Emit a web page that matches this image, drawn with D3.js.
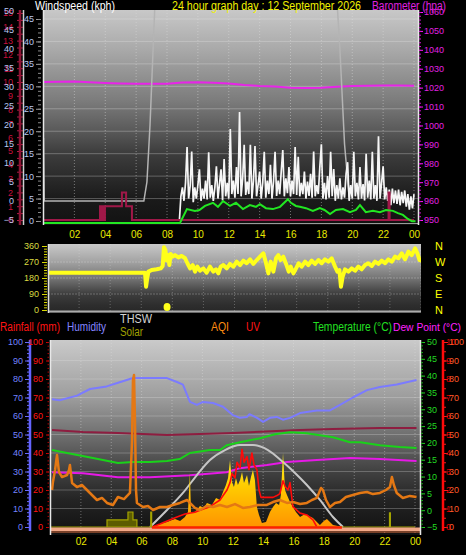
<!DOCTYPE html>
<html><head><meta charset="utf-8">
<script src="https://cdn.jsdelivr.net/npm/d3@7"></script>
<style>html,body{margin:0;padding:0;background:#000;overflow:hidden}</style>
</head><body>
<svg id="c" width="466" height="555" style="display:block;background:#000"></svg>
<script>
// ---------- DATA ----------
const hourTicks = [2,4,6,8,10,12,14,16,18,20,22,24];
const hourLabels = ["02","04","06","08","10","12","14","16","18","20","22","00"];

// Top panel: barometer (hPa)
const baroHours = [0,1,2,3,4,5,6,7,8,9,10,11,12,13,14,15,16,17,18,19,20,21,22,23,24];
const baroHpa = [1023.0,1023.1,1023.2,1022.9,1022.5,1022.2,1022.0,1022.0,1022.1,1022.7,1022.8,1022.6,1022.2,1021.4,1020.9,1020.6,1020.0,1019.8,1019.9,1020.5,1020.8,1021.0,1021.1,1021.1,1021.0];

// Top panel: average wind (kph)
const windAvgHours = [0,8.84,9.29,9.81,10.1,10.46,10.98,11.3,11.63,12.08,12.47,12.92,13.37,13.76,14.02,14.41,14.86,15.32,15.83,16.03,16.35,16.61,17.0,17.45,17.9,18.2,18.56,18.94,19.4,19.85,20.24,20.5,20.88,21.34,21.79,22.18,22.64,22.96,23.28,23.6,23.87,24.1];
const windAvgKph = [0,0,3.1,2.7,2.9,3.8,4.5,3.6,4.9,3.8,4.5,3.1,4.0,3.6,4.2,3.3,3.1,3.6,5.3,4.5,3.8,3.6,3.3,2.7,3.3,2.9,2.0,2.9,3.1,2.4,2.9,4.0,2.4,2.7,2.4,2.9,2.7,2.2,1.8,0.9,0.4,0.4];

// Top panel: gust (kph), one reading every 0.1 h from 8.8 h
const gustStartHour = 8.8, gustStepHour = 0.1;
const gustKph = [0,5.5,7.5,4.5,8.5,16.5,5.0,7.8,15.5,4.2,7.5,5.0,8.0,11.5,4.5,7.2,5.0,9.0,4.8,15.3,5.2,8.0,4.5,7.5,12.2,5.0,8.2,11.5,4.6,13.8,5.5,8.5,5.0,20.5,6.0,9.0,5.2,12.0,6.0,24.3,5.5,9.5,17.0,5.8,8.8,6.0,17.0,5.0,9.0,16.7,5.5,8.0,11.0,5.0,8.5,15.4,5.2,9.0,6.0,12.5,5.0,8.8,15.4,5.6,9.0,6.0,11.0,15.8,5.5,9.5,6.2,12.0,5.5,9.0,6.0,16.5,5.8,14.3,5.5,8.5,6.0,11.0,5.0,8.8,5.6,10.5,5.2,15.5,5.5,8.0,6.0,12.0,17.1,5.0,8.5,4.8,10.0,5.2,15.4,5.5,11.6,4.5,8.0,5.0,9.5,4.8,7.5,5.2,10.5,13.1,4.5,8.0,5.0,15.4,5.5,8.5,4.8,12.0,5.0,8.2,4.6,15.0,5.2,9.0,4.8,15.4,5.0,8.0,4.5,18.9,5.0,8.5,12.2,4.8,7.5,4.5,7.0,3.5,7.2,4.0,6.8,3.8,7.0,3.5,6.5,4.0,6.8,3.2,6.0,2.5,5.5,2.8,6.0];

// Top panel: grey trace (left -5..50 scale)
const greyHours = [0,0.05,6.5,6.7,6.9,7.1,7.3,18.9,19.2,19.5,19.8];
const greyVals = [16.6,0,0,5,20,40,60,60,40,15,1];

// Top panel: Beaufort steps
const bftHours = [0,3.66,3.75,3.85,3.92,3.98,5.08,5.35,5.73,22.35,22.42,24];
const bftVals = [0,1,0,1,0,1,2,1,0,2,0,0];

// Middle panel: wind direction (deg)
const dirHours = [0.02,6.24,6.31,6.37,6.46,6.67,6.99,7.25,7.38,7.46,7.55,7.64,7.74,7.81,7.89,8.02,8.17,8.39,8.6,8.82,8.97,9.14,9.31,9.46,9.61,9.78,10.0,10.21,10.42,10.64,10.81,10.96,11.11,11.28,11.5,11.71,11.93,12.14,12.36,12.57,12.78,13.0,13.21,13.43,13.64,13.86,14.03,14.18,14.33,14.5,14.67,14.82,14.97,15.14,15.32,15.49,15.62,15.79,15.96,16.13,16.32,16.54,16.75,16.97,17.18,17.4,17.61,17.82,18.04,18.25,18.47,18.62,18.75,18.85,18.96,19.11,19.33,19.54,19.76,19.97,20.18,20.4,20.61,20.83,21.04,21.26,21.47,21.69,21.9,22.12,22.33,22.54,22.76,22.97,23.19,23.4,23.62,23.77,23.9,24.05];
const dirDeg = [210,210,131,169,216,225,229,234,248,353,338,278,309,253,315,300,309,296,304,291,263,234,253,216,244,221,234,210,244,216,229,206,244,253,234,259,244,272,253,278,263,285,259,281,300,319,263,206,272,216,291,309,281,300,259,216,244,206,234,263,244,272,253,278,259,281,263,285,272,291,244,216,225,131,188,229,216,234,221,244,229,253,263,248,272,259,278,263,285,272,300,291,319,285,328,309,347,319,281,278];
const dirDotHour = 7.66, dirDotDeg = 17;

// Bottom panel: humidity (%)
const humHours = [0.1,0.6,1.75,2.6,3.7,4.45,5.43,7.67,8.33,8.72,9.18,9.64,10.04,10.7,11.36,12.0,12.48,12.94,13.1,13.6,14.0,14.45,14.9,15.3,15.77,16.43,17.54,18.4,19.06,19.91,20.84,21.69,22.8,24.1];
const humVals = [69,68.5,71,74.6,76,78,80.5,80.5,78.4,77,67.6,66,67.6,67,65,60.5,59,59.5,61,59,56.8,59,59.5,58,59,61.6,63,63,66,70,74,75.7,77,79.5];

// Bottom panel: THSW (maroon, 0-100 scale)
const thswHours = [0.1,2.14,4.44,7.67,12.02,16.43,18.6,21.69,24.1];
const thswVals = [52.4,51.4,50.8,49.7,50.8,52.4,53,53.5,53.5];

// Bottom panel: temperature (°C)
const tempHours = [0.1,1.09,2.8,4.44,5.43,6.55,7.67,8.5,9.18,10.5,11.16,11.6,12.48,13.8,14.78,15.77,16.88,18.6,19.72,20.4,21.69,23.0,24.1];
const tempVals = [17.9,17.0,15.5,14.0,14.3,14.3,14.6,15.2,17.0,17.9,17.9,19.3,20.2,21.4,22.6,23.2,22.9,21.7,20.2,20.2,19.3,18.8,18.5];

// Bottom panel: dew point (°C)
const dewHours = [0.1,2.14,4.44,6.55,9.18,11.6,12.48,14.25,15.57,17.54,19.72,21.69,24.1];
const dewVals = [11.3,11.0,9.8,9.8,10.4,11.3,12.5,13.4,14.3,14.9,15.5,15.2,14.6];

// Bottom panel: AQI (0-100)
const aqiHours = [0.1,0.16,0.3,0.43,0.56,0.76,1.09,1.22,1.28,1.42,1.74,2.07,2.4,2.73,3.06,3.39,3.72,4.11,4.44,4.84,5.23,5.37,5.43,5.5,5.56,5.63,5.69,6.09,6.42,6.75,7.21,7.67,8.06,8.52,8.99,9.18,9.51,9.84,10.3,10.7,11.16,11.62,12.15,12.67,13.13,13.66,14.25,14.65,15.1,15.57,15.96,16.43,16.88,17.21,17.54,17.81,17.94,18.14,18.4,18.73,19.06,19.45,19.91,20.38,20.84,21.23,21.69,22.09,22.35,22.48,22.61,22.8,23.2,23.66,24.1];
const aqiVals = [20,24.3,30.8,38.9,29.7,27,28.1,30.8,33.5,23.8,21.6,22.7,20,17.3,14.6,15.7,13,11.9,16.2,15.1,18.4,47,79.5,82.2,57.8,20,13,10.8,11.4,9.2,10.8,10.8,11.9,13,14.6,13,10.3,9.2,11.4,10.8,11.9,10.8,12.4,10.3,10.8,11.9,11.9,13.5,14.6,13,13.5,12.4,13,14.6,15.7,21.1,20,14.6,10.8,13,13.5,16.2,17.3,18.4,18.9,17.8,18.4,20,21.6,27,22.7,18.4,15.7,16.8,16.2];

// Bottom panel: clear-sky solar curve (0-100)
const solarMaxHours = [6.55,7.67,8.72,9.64,10.5,11.49,12.48,13.33,14.32,15.31,16.1,16.88,17.74,18.6,19.26];
const solarMaxVals = [0,9.2,18.4,28.1,36.2,41.6,44.3,44.3,41.6,35.1,29.2,22.7,14.6,5.4,0];

// Bottom panel: solar radiation (0-100)
const solarHours = [6.68,6.88,7.21,7.67,8.2,8.53,8.85,9.05,9.18,9.25,9.38,9.64,9.84,10.1,10.3,10.63,10.9,11.16,11.36,11.55,11.69,11.82,11.95,12.08,12.21,12.34,12.48,12.61,12.74,12.94,13.07,13.2,13.33,13.46,13.59,13.73,13.92,14.19,14.45,14.65,14.85,15.05,15.17,15.31,15.44,15.57,15.77,15.96,16.16,16.43,16.76,17.02,17.28,17.54,17.74,18.0,18.2,18.4,18.6,18.93,19.19];
const solarVals = [0,0.5,1.6,2.7,4.3,3.2,5.4,8.1,29.2,8.1,7.6,9.2,11.4,10.3,13,11.9,15.7,14.6,18.9,22.7,26.5,36.2,24.3,21.6,26.5,22.7,25.4,29.7,23.8,28.1,22.2,27,30.8,25.4,10.8,6.5,2.2,2.7,8.1,10.8,13,11.9,17.3,40,20,17.3,13.5,10.8,8.1,5.4,7,5.9,4.9,2.7,1.1,3.2,4.3,2.7,1.1,0.5,0];

// Bottom panel: UV index
const uvHours = [6.68,7.21,8.2,8.85,9.51,9.84,10.5,11.16,11.62,11.82,11.95,12.15,12.28,12.48,12.61,12.74,12.94,13.07,13.26,13.4,13.59,13.73,13.86,14.12,14.45,14.65,14.91,15.1,15.31,15.44,15.64,15.77,15.96,16.43,16.88,17.28,17.54];
const uvVals = [0,0.16,0.5,0.7,0.8,0.9,1.1,1.46,2.0,2.4,2.9,2.65,3.5,3.2,4.2,3.5,3.8,3.1,4.0,3.35,3.1,2.0,1.6,1.6,1.6,1.6,1.7,1.8,2.5,2.2,2.0,2.4,1.1,0.75,0.65,0.38,0];

// Bottom panel: olive solar steps (0-100)
const oliveHours = [0,3.72,5.1,5.43,5.69,6.6,6.66,22.32,22.38,24];
const oliveVals = [0,3.8,8.1,3.8,0,8.1,0,7.6,0,0];

// ---------- DRAWING ----------
(function () {
const FONT = "'Liberation Sans', Arial, sans-serif";
const svg = d3.select('#c');
const defs = svg.append('defs');

function grad(id, y1, y2, stops) {
  const g = defs.append('linearGradient').attr('id', id).attr('gradientUnits', 'userSpaceOnUse')
    .attr('x1', 0).attr('x2', 0).attr('y1', y1).attr('y2', y2);
  stops.forEach(s => g.append('stop').attr('offset', s[0]).attr('stop-color', s[1]));
}
grad('gTop', 10, 225, [[0,'#c8c8c8'],[0.19,'#a8a8a8'],[0.42,'#7c7c7c'],[0.56,'#5a5a5a'],[0.66,'#3e3e3e'],[0.88,'#1a1a1a'],[1,'#121212']]);
grad('gMid', 244, 313, [[0,'#c8c8c8'],[0.25,'#a4a4a4'],[0.5,'#747474'],[0.72,'#3e3e3e'],[0.88,'#2e2e2e'],[1,'#262626']]);
grad('gBot', 340, 535, [[0,'#cacaca'],[0.3,'#9c9c9c'],[0.5,'#6c6c6c'],[0.66,'#444'],[0.82,'#242424'],[1,'#101010']]);
grad('gSolar', 445, 527, [[0,'#ffff30'],[0.5,'#ffcc00'],[1,'#ff9400']]);

function clip(id, x, y, w, h) {
  defs.append('clipPath').attr('id', id).append('rect').attr('x', x).attr('y', y).attr('width', w).attr('height', h);
}
clip('cTop', 44, 10, 374, 215);
clip('cMid', 48, 244, 373, 69);
clip('cBot', 50, 340, 370, 195);

function addAxis(axis, tx, ty, color, fs) {
  const g = svg.append('g').attr('transform', `translate(${tx},${ty})`).call(axis);
  g.attr('font-family', null).attr('font-size', null);
  g.select('.domain').remove();
  g.selectAll('line').attr('stroke', color);
  g.selectAll('text').attr('fill', color).style('font-size', fs + 'px').style('font-family', FONT);
  return g;
}
function label(txt, x, y, color, len, fs) {
  svg.append('text').attr('x', x).attr('y', y).attr('fill', color)
    .style('font-family', FONT).style('font-size', (fs || 12) + 'px')
    .attr('textLength', len).attr('lengthAdjust', 'spacingAndGlyphs').text(txt);
}
const intFmt = d3.format('d');

// ---- scales ----
const xTop = d3.scaleLinear([0, 24], [43.5, 414]);
const xMid = d3.scaleLinear([0, 24], [48, 421]);
const xBot = d3.scaleLinear([0, 24], [50.5, 415]);
const yWind = d3.scaleLinear([0, 45], [221, 19]);
const yTempL = d3.scaleLinear([-5, 50], [220, 11]);
const yBft = d3.scaleLinear([0, 15], [220, 13]);
const yBaro = d3.scaleLinear([950, 1060], [220, 12]);
const yDir = d3.scaleLinear([0, 360], [310, 246]);
const yPct = d3.scaleLinear([0, 100], [527, 342]);
const yTemp = d3.scaleLinear([-5, 50], [527, 342]);
const yUV = d3.scaleLinear([0, 10], [527, 342]);

// ============ TOP PANEL ============
svg.append('rect').attr('x', 44).attr('y', 10).attr('width', 374).attr('height', 215).attr('fill', 'url(#gTop)');
const topG = svg.append('g').attr('clip-path', 'url(#cTop)');
d3.range(5, 50, 5).forEach(k => topG.append('line').attr('x1', 44).attr('x2', 418)
  .attr('y1', yWind(k)).attr('y2', yWind(k)).attr('stroke', 'rgba(235,235,235,0.3)'));
hourTicks.forEach(h => topG.append('line').attr('x1', xTop(h)).attr('x2', xTop(h)).attr('y1', 10).attr('y2', 225)
  .attr('stroke', 'rgba(225,225,225,0.45)').attr('stroke-dasharray', '1,2'));

topG.append('path').datum(baroHours.map((h, i) => [h, baroHpa[i]]))
  .attr('d', d3.line().x(d => xTop(d[0])).y(d => yBaro(d[1])))
  .attr('fill', 'none').attr('stroke', '#e824e8').attr('stroke-width', 2);
topG.append('path').datum(greyHours.map((h, i) => [h, greyVals[i]]))
  .attr('d', d3.line().x(d => xTop(d[0])).y(d => yTempL(d[1])))
  .attr('fill', 'none').attr('stroke', '#b4b4b4').attr('stroke-width', 1.5);
topG.append('path').datum(gustKph.map((v, i) => [gustStartHour + i * gustStepHour, v]))
  .attr('d', d3.line().x(d => xTop(d[0])).y(d => yWind(d[1])))
  .attr('fill', 'none').attr('stroke', '#f6f6f6').attr('stroke-width', 1.7);
topG.append('line').attr('x1', 44).attr('x2', 418).attr('y1', 223.5).attr('y2', 223.5).attr('stroke', '#9a9a9a');
topG.append('path').datum(bftHours.map((h, i) => [h, bftVals[i]]))
  .attr('d', d3.line().curve(d3.curveStepAfter).x(d => xTop(d[0])).y(d => yBft(d[1])))
  .attr('fill', 'none').attr('stroke', '#a01848').attr('stroke-width', 2);
topG.append('path').datum(windAvgHours.map((h, i) => [h, windAvgKph[i]]))
  .attr('d', d3.line().x(d => xTop(d[0])).y(d => yWind(d[1]) + 2))
  .attr('fill', 'none').attr('stroke', '#22e622').attr('stroke-width', 2);

// left axes
addAxis(d3.axisLeft(yBft).tickValues(d3.range(0, 16)).tickSize(0).tickPadding(0), 13, 0, '#c8103e', 9);
addAxis(d3.axisLeft(yTempL).tickValues(d3.range(-5, 51, 5)).tickSize(0).tickPadding(0), 14, 0, '#b8c8f0', 9);
svg.append('line').attr('x1', 20).attr('x2', 20).attr('y1', 10).attr('y2', 225).attr('stroke', '#8c1434').attr('stroke-width', 2.5);
addAxis(d3.axisLeft(yBft).tickValues(d3.range(0, 15.01, 0.5)).tickSize(2).tickFormat(''), 19, 0, '#b01a46', 9);
addAxis(d3.axisRight(yBft).tickValues(d3.range(0, 15.01, 0.5)).tickSize(2).tickFormat(''), 21, 0, '#b01a46', 9);
svg.append('line').attr('x1', 23.5).attr('x2', 23.5).attr('y1', 10).attr('y2', 225).attr('stroke', '#cfcfcf').attr('stroke-width', 1.5);
addAxis(d3.axisLeft(yWind).tickValues(d3.range(0, 46, 5)).tickSize(0).tickPadding(0), 34, 0, '#b8c8f0', 9);
addAxis(d3.axisRight(yWind).tickValues(d3.range(0, 46, 5)).tickSize(5).tickFormat(''), 36, 0, '#9a9a9a', 9);
addAxis(d3.axisRight(yWind).tickValues(d3.range(0, 46, 1)).tickSize(3).tickFormat(''), 38, 0, '#8a8a8a', 9);
svg.append('line').attr('x1', 43.5).attr('x2', 43.5).attr('y1', 10).attr('y2', 225).attr('stroke', '#e8e8e8').attr('stroke-width', 1.5);
// right axis
svg.append('line').attr('x1', 418.5).attr('x2', 418.5).attr('y1', 10).attr('y2', 225).attr('stroke', '#e8e8e8').attr('stroke-width', 1.5);
addAxis(d3.axisRight(yBaro).tickValues(d3.range(950, 1061, 10)).tickSize(4).tickFormat(''), 419, 0, '#ff10ff', 9);
addAxis(d3.axisRight(yBaro).tickValues(d3.range(950, 1061, 2)).tickSize(2).tickFormat(''), 419, 0, '#d010d0', 9);
addAxis(d3.axisRight(yBaro).tickValues(d3.range(950, 1061, 10)).tickFormat(intFmt).tickSize(0).tickPadding(0), 424, 0, '#e020e0', 9);
// hour labels
addAxis(d3.axisBottom(xTop).tickValues(hourTicks).tickFormat((d, i) => hourLabels[i]).tickSize(0).tickPadding(2), 0, 229, '#e8e800', 10);

label('Windspeed (kph)', 35, 10, '#ffffff', 80);
label('24 hour graph day : 12 September 2026', 172, 10, '#f0f000', 189);
label('Barometer (hpa)', 372, 10, '#e020e0', 74);

// ============ MIDDLE PANEL ============
svg.append('rect').attr('x', 48).attr('y', 244).attr('width', 373).attr('height', 69).attr('fill', 'url(#gMid)');
const midG = svg.append('g').attr('clip-path', 'url(#cMid)');
[90, 180, 270].forEach(v => midG.append('line').attr('x1', 48).attr('x2', 421).attr('y1', yDir(v)).attr('y2', yDir(v))
  .attr('stroke', 'rgba(225,225,225,0.3)').attr('stroke-dasharray', '2,1'));
hourTicks.forEach(h => midG.append('line').attr('x1', xMid(h)).attr('x2', xMid(h)).attr('y1', 244).attr('y2', 313)
  .attr('stroke', 'rgba(225,225,225,0.3)').attr('stroke-dasharray', '1,2'));
midG.append('line').attr('x1', 48).attr('x2', 421).attr('y1', 311.5).attr('y2', 311.5).attr('stroke', '#ababab').attr('stroke-width', 2);
midG.append('path').datum(dirHours.map((h, i) => [h, dirDeg[i]]))
  .attr('d', d3.line().x(d => xMid(d[0])).y(d => yDir(d[1])))
  .attr('fill', 'none').attr('stroke', '#ffff1a').attr('stroke-width', 4).attr('stroke-linejoin', 'round');
midG.append('ellipse').attr('cx', xMid(dirDotHour)).attr('cy', yDir(dirDotDeg)).attr('rx', 3.5).attr('ry', 4).attr('fill', '#ffff1a');
svg.append('line').attr('x1', 48.5).attr('x2', 48.5).attr('y1', 244).attr('y2', 313).attr('stroke', '#e0e0e0').attr('stroke-width', 1.5);
addAxis(d3.axisLeft(yDir).tickValues(d3.range(0, 361, 15)).tickSize(3).tickFormat(''), 47, 0, '#d8d800', 9);
addAxis(d3.axisLeft(yDir).tickValues([0, 90, 180, 270, 360]).tickSize(5).tickFormat(''), 47, 0, '#d8d800', 9);
addAxis(d3.axisLeft(yDir).tickValues([0, 90, 180, 270, 360]).tickSize(0).tickPadding(0), 39, 0, '#dada40', 9);
const compass = {0: 'N', 90: 'E', 180: 'S', 270: 'W', 360: 'N'};
addAxis(d3.axisRight(yDir).tickValues([0, 90, 180, 270, 360]).tickFormat(d => compass[d]).tickSize(0).tickPadding(0), 435, 0, '#ffff00', 11);

// ============ BOTTOM PANEL ============
svg.append('rect').attr('x', 50).attr('y', 340).attr('width', 370).attr('height', 195).attr('fill', 'url(#gBot)');
const botG = svg.append('g').attr('clip-path', 'url(#cBot)');
d3.range(10, 100, 10).forEach(v => botG.append('line').attr('x1', 50).attr('x2', 420).attr('y1', yPct(v)).attr('y2', yPct(v))
  .attr('stroke', 'rgba(225,225,225,0.28)'));
hourTicks.forEach(h => botG.append('line').attr('x1', xBot(h)).attr('x2', xBot(h)).attr('y1', 340).attr('y2', 535)
  .attr('stroke', 'rgba(225,225,225,0.4)').attr('stroke-dasharray', '1,2'));
function botLine(hours, vals, ys, color, w, curve) {
  botG.append('path').datum(hours.map((h, i) => [h, vals[i]]))
    .attr('d', d3.line().curve(curve || d3.curveLinear).x(d => xBot(d[0])).y(d => ys(d[1])))
    .attr('fill', 'none').attr('stroke', color).attr('stroke-width', w).attr('stroke-linejoin', 'round');
}
botLine(humHours, humVals, yPct, '#7b7bff', 2);
botLine(thswHours, thswVals, yPct, '#8e1d40', 2);
botLine(tempHours, tempVals, yTemp, '#1ad21a', 2);
botLine(dewHours, dewVals, yTemp, '#e619e6', 2);
botLine(solarMaxHours, solarMaxVals, yPct, '#c6c6c6', 2, d3.curveMonotoneX);
botG.append('path').datum(solarHours.map((h, i) => [h, solarVals[i]]))
  .attr('d', d3.area().x(d => xBot(d[0])).y0(yPct(0)).y1(d => yPct(d[1])))
  .attr('fill', 'url(#gSolar)');
botLine(uvHours, uvVals, yUV, '#ff0a0a', 1.6);
botG.append('path').datum(oliveHours.map((h, i) => [h, oliveVals[i]]))
  .attr('d', d3.area().curve(d3.curveStepAfter).x(d => xBot(d[0])).y0(yPct(0)).y1(d => yPct(d[1])))
  .attr('fill', '#5c5c00').attr('stroke', '#a4a400').attr('stroke-width', 1.2);
botLine(aqiHours, aqiVals, yPct, '#e47814', 2.5);
botG.append('rect').attr('x', 50).attr('y', 527.5).attr('width', 370).attr('height', 3.5).attr('fill', '#f2a888');
botG.append('line').attr('x1', xBot(uvHours[0])).attr('x2', xBot(uvHours[uvHours.length - 1]) + 25)
  .attr('y1', 527.5).attr('y2', 527.5).attr('stroke', '#ff2000').attr('stroke-width', 2.5);
botG.append('line').attr('x1', 50).attr('x2', 420).attr('y1', 532).attr('y2', 532).attr('stroke', '#e07040').attr('stroke-width', 1);

// left axes
svg.append('line').attr('x1', 30).attr('x2', 30).attr('y1', 340).attr('y2', 531).attr('stroke', '#6464ff').attr('stroke-width', 2.5);
addAxis(d3.axisLeft(yPct).tickValues(d3.range(0, 101, 10)).tickSize(4).tickFormat(''), 29, 0, '#6a6aff', 9);
addAxis(d3.axisLeft(yPct).tickValues(d3.range(0, 101, 2)).tickSize(2).tickFormat(''), 29, 0, '#6a6aff', 9);
addAxis(d3.axisLeft(yPct).tickValues(d3.range(0, 101, 10)).tickSize(0).tickPadding(0), 23, 0, '#7484ff', 9);
addAxis(d3.axisLeft(yPct).tickValues(d3.range(0, 101, 10)).tickSize(0).tickPadding(0), 43, 0, '#ff1414', 9);
addAxis(d3.axisRight(yPct).tickValues(d3.range(0, 101, 10)).tickSize(3).tickFormat(''), 46, 0, '#d00000', 9);
addAxis(d3.axisRight(yPct).tickValues(d3.range(0, 101, 2)).tickSize(1.5).tickFormat(''), 47.5, 0, '#b00000', 9);
svg.append('line').attr('x1', 50.5).attr('x2', 50.5).attr('y1', 340).attr('y2', 535).attr('stroke', '#e8e8e8').attr('stroke-width', 1.5);
// right axes
svg.append('line').attr('x1', 420.5).attr('x2', 420.5).attr('y1', 340).attr('y2', 535).attr('stroke', '#e8e8e8').attr('stroke-width', 1.5);
addAxis(d3.axisRight(yTemp).tickValues(d3.range(-5, 51, 5)).tickSize(4).tickFormat(''), 421, 0, '#22c822', 9);
addAxis(d3.axisRight(yTemp).tickValues(d3.range(-5, 51, 1)).tickSize(2).tickFormat(''), 421, 0, '#1aa81a', 9);
addAxis(d3.axisRight(yTemp).tickValues(d3.range(-5, 51, 5)).tickSize(0).tickPadding(0), 427, 0, '#22d822', 9);
svg.append('line').attr('x1', 443).attr('x2', 443).attr('y1', 340).attr('y2', 531).attr('stroke', '#ff0a0a').attr('stroke-width', 2.5);
addAxis(d3.axisRight(yUV).tickValues(d3.range(0, 10.01, 1)).tickSize(4).tickFormat(''), 444, 0, '#ff1a1a', 9);
addAxis(d3.axisRight(yUV).tickValues(d3.range(0, 10.01, 0.5)).tickSize(2).tickFormat(''), 444, 0, '#ff1a1a', 9);
addAxis(d3.axisRight(yUV).tickValues(d3.range(0, 11, 1)).tickSize(0).tickPadding(0), 446, 0, '#e00000', 9);
addAxis(d3.axisRight(yPct).tickValues(d3.range(0, 101, 10)).tickSize(0).tickPadding(0), 449, 0, '#ff5a28', 9);
// hour labels
addAxis(d3.axisBottom(xBot).tickValues(hourTicks).tickFormat((d, i) => hourLabels[i]).tickSize(0).tickPadding(2), 0, 536, '#e8e800', 10);

// legend / titles
label('Rainfall (mm)', 0, 331, '#ff1414', 60);
label('Humidity', 67, 331, '#8484ff', 39);
label('THSW', 120, 323, '#d4d4d4', 32);
label('Solar', 120, 336, '#a0a000', 23);
label('AQI', 211, 331, '#ff8c10', 18);
label('UV', 246, 331, '#ff1414', 14);
label('Temperature (°C)', 313, 331, '#22e022', 79);
label('Dew Point (°C)', 393, 331, '#ff22ff', 68, 10.5);
})();
</script></body></html>
